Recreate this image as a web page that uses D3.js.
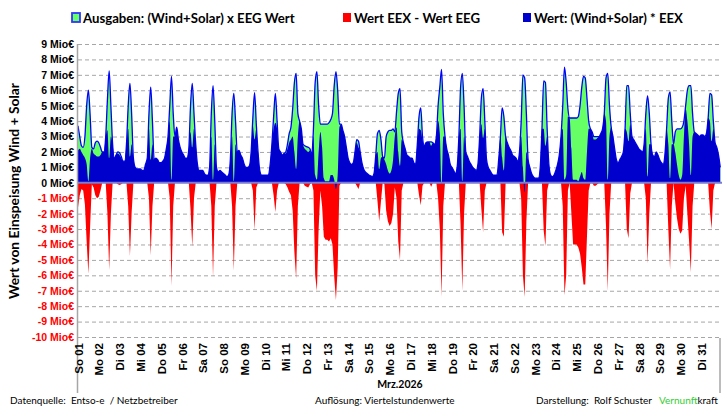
<!DOCTYPE html>
<html lang="de">

<head>
  <meta charset="UTF-8">
  <title>Wert von Einspeisung Wind + Solar - Mrz.2026</title>
  <style>
    body { margin: 0; background: #fff; }
    svg { display: block; font-family: Lato, "Open Sans", sans-serif; }
    .grid line { stroke: #a6a6a6; stroke-dasharray: 4 3; }
    .grid path { display: none; }
    .ylab text { font-weight: bold; font-size: 10.5px; }
    .xlab text { font-weight: bold; font-size: 11.5px; fill: #000; }
    .legend { font-weight: bold; font-size: 13.2px; }
    .foot { font-size: 10px; }
  </style>
</head>

<body>
  <svg id="chart"></svg>

  <script src="https://d3js.org/d3.v7.min.js"></script>
  <script>
    // day labels (ticks at the start of each day)
    const dayLabels = ["So 01", "Mo 02", "Di 03", "Mi 04", "Do 05", "Fr 06", "Sa 07", "So 08", "Mo 09", "Di 10",
      "Mi 11", "Do 12", "Fr 13", "Sa 14", "So 15", "Mo 16", "Di 17", "Mi 18", "Do 19", "Fr 20", "Sa 21",
      "So 22", "Mo 23", "Di 24", "Mi 25", "Do 26", "Fr 27", "Sa 28", "So 29", "Mo 30", "Di 31"];
    const yTicks = [9, 8, 7, 6, 5, 4, 3, 2, 1, 0, -1, -2, -3, -4, -5, -6, -7, -8, -9, -10];
    const stepHours = 2; // one value every 2 hours, 12 per day

    // Ausgaben: (Wind+Solar) x EEG Wert  [Mio €]
    const eegWert = [
      3.7, 3.0, 2.4, 2.3, 3.0, 5.0, 6.0, 4.4, 2.3, 2.2, 2.6, 2.7,
      2.6, 2.3, 2.0, 2.0, 3.0, 5.4, 7.25, 5.0, 2.5, 1.6, 1.8, 2.0,
      1.95, 1.7, 1.4, 1.4, 2.5, 5.0, 6.45, 4.4, 1.6, 1.0, 0.9, 0.9,
      0.9, 0.8, 0.8, 1.2, 1.6, 4.5, 6.2, 4.0, 1.5, 1.6, 1.5, 1.3,
      1.3, 1.4, 1.6, 2.2, 3.0, 5.0, 6.9, 4.5, 3.0, 3.6, 2.8, 2.3,
      2.0, 1.8, 1.6, 1.6, 2.2, 5.0, 6.45, 4.5, 2.5, 1.2, 0.8, 0.8,
      0.8, 0.6, 0.5, 0.5, 1.0, 4.5, 6.3, 4.0, 1.0, 0.7, 0.8, 0.7,
      0.6, 0.5, 0.4, 0.5, 1.5, 4.5, 5.8, 4.0, 2.0, 2.1, 1.8, 1.6,
      1.2, 1.0, 1.0, 1.1, 2.0, 4.2, 5.85, 3.8, 2.0, 0.8, 0.5, 0.5,
      0.5, 0.5, 0.5, 1.2, 2.5, 4.3, 5.8, 4.0, 2.2, 2.0, 1.8, 1.9,
      2.0, 2.5, 3.2, 3.6, 4.8, 6.5, 7.1, 4.5, 4.0, 3.5, 2.5, 2.4,
      2.35, 2.3, 2.2, 1.8, 3.5, 6.5, 7.2, 5.0, 3.8, 3.8, 3.8, 3.8,
      3.8, 3.9, 4.1, 4.5, 6.3, 7.2, 6.0, 3.8, 3.8, 3.4, 3.0, 2.3,
      1.6, 1.3, 1.2, 1.3, 2.0, 2.8, 2.7, 2.0, 1.3, 0.9, 0.7, 0.6,
      0.5, 0.45, 0.4, 0.6, 1.8, 3.2, 3.4, 2.8, 1.7, 1.6, 3.0, 3.3,
      3.4, 3.4, 3.5, 3.3, 4.6, 5.8, 6.1, 3.3, 2.6, 2.2, 1.8, 1.7,
      1.6, 1.6, 1.3, 1.2, 2.5, 4.3, 4.85, 3.0, 2.4, 2.6, 2.65, 2.65,
      2.65, 2.6, 2.5, 3.0, 5.0, 6.2, 7.35, 4.5, 3.0, 2.2, 1.8, 1.2,
      1.0, 0.8, 0.6, 1.0, 3.0, 6.2, 7.1, 5.0, 2.0, 1.7, 1.4, 1.2,
      1.0, 0.9, 0.8, 1.2, 3.0, 5.5, 6.1, 4.0, 1.5, 1.0, 0.8, 0.6,
      0.5, 0.5, 0.5, 1.5, 3.0, 4.85, 4.3, 3.0, 2.6, 2.3, 2.1, 1.8,
      1.7, 1.6, 1.4, 2.0, 4.0, 7.0, 6.8, 4.5, 1.5, 1.0, 0.6, 0.4,
      0.3, 0.3, 0.3, 1.0, 3.5, 6.6, 6.5, 3.5, 1.2, 0.5, 0.4, 0.5,
      0.8, 1.2, 1.8, 3.0, 5.0, 7.5, 6.5, 4.8, 4.2, 4.2, 4.2, 4.2,
      4.2, 4.3, 5.0, 6.2, 6.9, 6.8, 5.5, 4.0, 3.5, 3.3, 3.0, 3.0,
      3.0, 3.0, 3.2, 3.5, 4.5, 6.8, 7.1, 5.0, 3.6, 3.0, 2.2, 1.5,
      1.3, 1.5, 1.7, 2.0, 3.5, 6.3, 6.3, 4.5, 3.0, 2.8, 2.6, 2.4,
      2.2, 2.1, 2.0, 2.5, 4.5, 5.65, 4.5, 2.5, 1.8, 1.7, 2.0, 1.8,
      1.5, 1.3, 1.2, 1.8, 3.5, 5.5, 5.9, 4.0, 2.5, 3.3, 3.5, 3.5,
      3.5, 3.6, 4.0, 5.0, 6.0, 6.3, 6.3, 4.5, 3.3, 3.2, 3.1, 3.0,
      3.1, 3.1, 3.0, 3.2, 4.2, 5.8, 5.7, 4.0, 2.6, 2.3, 1.8, 1.0
    ];

    // Wert: (Wind+Solar) * EEX  [Mio €]
    const eexWert = [
      2.1, 2.2, 2.0, 1.8, 1.6, 1.2, 0.1, 1.6, 2.2, 1.9, 1.8, 1.7,
      1.7, 1.8, 2.0, 2.0, 3.0, 3.4, 1.6, 3.0, 2.5, 1.6, 1.8, 1.9,
      1.8, 1.6, 1.4, 1.4, 2.5, 3.5, 1.7, 2.5, 1.6, 1.0, 0.9, 0.9,
      0.9, 0.8, 0.8, 1.2, 1.6, 3.5, 1.5, 2.5, 1.5, 1.6, 1.5, 1.3,
      1.3, 1.4, 1.6, 2.2, 3.0, 4.0, 0.2, 3.0, 3.0, 3.6, 2.8, 2.3,
      2.0, 1.8, 1.6, 1.6, 2.2, 3.3, 2.3, 3.5, 2.5, 1.2, 0.8, 0.8,
      0.8, 0.6, 0.5, 0.5, 1.0, 3.0, 0.2, 2.5, 1.0, 0.7, 0.8, 0.7,
      0.6, 0.5, 0.4, 0.5, 1.5, 3.0, 0.1, 2.5, 2.0, 2.1, 1.8, 1.6,
      1.2, 1.0, 1.0, 1.1, 2.0, 3.7, 2.8, 3.5, 2.0, 0.8, 0.5, 0.5,
      0.5, 0.5, 0.5, 1.2, 2.5, 3.5, 3.9, 3.5, 2.2, 2.0, 1.8, 1.9,
      1.9, 2.2, 2.6, 2.8, 3.0, 2.0, 0.9, 3.0, 4.0, 3.5, 2.5, 2.2,
      2.1, 2.0, 2.1, 1.8, 3.0, 0.5, 0.2, 2.0, 3.3, 2.3, 0.3, 0.1,
      0.1, 0.1, 0.5, 0.5, 0.2, -0.4, 0.5, 3.6, 3.8, 3.4, 3.0, 2.3,
      1.6, 1.3, 1.2, 1.3, 2.0, 2.6, 2.3, 2.0, 1.3, 0.9, 0.7, 0.6,
      0.5, 0.45, 0.4, 0.6, 1.8, 2.0, 0.9, 1.6, 1.7, 1.5, 1.2, 0.8,
      0.6, 0.8, 1.5, 3.0, 3.6, 2.0, 1.1, 2.8, 2.6, 2.2, 1.8, 1.7,
      1.6, 1.6, 1.3, 1.2, 2.5, 3.5, 3.4, 2.8, 2.4, 2.6, 2.65, 2.65,
      2.4, 2.6, 2.5, 3.0, 4.0, 3.2, -0.1, 3.0, 3.0, 2.2, 1.8, 1.2,
      1.0, 0.8, 0.6, 1.0, 3.0, 3.5, 0.1, 3.0, 2.0, 1.7, 1.4, 1.2,
      1.0, 0.9, 0.8, 1.2, 3.0, 3.8, 2.9, 3.5, 1.5, 1.0, 0.8, 0.6,
      0.5, 0.5, 0.5, 1.5, 3.0, 1.65, 0.8, 3.0, 2.6, 2.3, 2.1, 1.8,
      1.7, 1.6, 1.4, 2.0, 3.0, 1.0, -0.6, 2.0, 1.5, 1.0, 0.6, 0.4,
      0.3, 0.3, 0.3, 1.0, 3.5, 3.5, 2.4, 3.0, 1.2, 0.5, 0.4, 0.5,
      0.8, 1.2, 1.8, 3.0, 3.5, 0.2, 0.5, 4.3, 4.2, 2.2, 0.2, 0.2,
      0.2, 0.1, 0.4, 0.7, 0.3, 0.2, 2.0, 3.5, 3.5, 3.3, 2.8, 2.8,
      2.9, 3.0, 3.2, 3.5, 4.5, 4.0, 0.2, 3.0, 3.6, 3.0, 2.2, 1.5,
      1.3, 1.5, 1.7, 2.0, 3.5, 3.3, 2.7, 3.8, 3.0, 2.8, 2.6, 2.4,
      2.2, 2.1, 2.0, 2.5, 3.5, 0.4, 2.5, 2.5, 1.8, 1.7, 2.0, 1.8,
      1.5, 1.3, 1.2, 1.8, 3.5, 2.5, 0.3, 2.5, 2.5, 2.0, 1.2, 0.5,
      0.2, 0.5, 3.0, 4.8, 4.0, 2.5, 0.5, 3.0, 3.3, 3.2, 3.1, 3.0,
      3.1, 3.1, 3.0, 3.2, 4.2, 4.0, 2.7, 3.5, 2.6, 2.3, 1.8, 1.0
    ];

    // Wert EEX - Wert EEG  [Mio €]
    const diffWert = [
      -1.6, -0.8, -0.4, -0.5, -1.4, -3.8, -5.9, -2.8, -0.1, -0.3, -0.8, -1.0,
      -0.9, -0.5, 0, 0, 0, -2.0, -5.65, -2.0, 0, 0, 0, -0.1,
      -0.15, -0.1, 0, 0, 0, -1.5, -4.75, -1.9, 0, 0, 0, 0,
      0, 0, 0, 0, 0, -1.0, -4.7, -1.5, 0, 0, 0, 0,
      0, 0, 0, 0, 0, -1.0, -6.7, -1.5, 0, 0, 0, 0,
      0, 0, 0, 0, 0, -1.7, -4.15, -1.0, 0, 0, 0, 0,
      0, 0, 0, 0, 0, -1.5, -6.1, -1.5, 0, 0, 0, 0,
      0, 0, 0, 0, 0, -1.5, -5.7, -1.5, 0, 0, 0, 0,
      0, 0, 0, 0, 0, -0.5, -3.05, -0.3, 0, 0, 0, 0,
      0, 0, 0, 0, 0, -0.8, -1.9, -0.5, 0, 0, 0, 0,
      -0.1, -0.3, -0.6, -0.8, -1.8, -4.5, -6.2, -1.5, 0, 0, 0, -0.2,
      -0.25, -0.3, -0.1, 0, -0.5, -6.0, -7.0, -3.0, -0.5, -1.5, -3.5, -3.7,
      -3.7, -3.8, -3.6, -4.0, -6.1, -7.6, -5.5, -0.2, 0, 0, 0, 0,
      0, 0, 0, 0, 0, -0.2, -0.4, 0, 0, 0, 0, 0,
      0, 0, 0, 0, 0, -1.2, -2.5, -1.2, 0, -0.1, -1.8, -2.5,
      -2.8, -2.6, -2.0, -0.3, -1.0, -3.8, -5.0, -0.5, 0, 0, 0, 0,
      0, 0, 0, 0, 0, -0.8, -1.45, -0.2, 0, 0, 0, 0,
      -0.25, 0, 0, 0, -1.0, -3.0, -7.4, -1.5, 0, 0, 0, 0,
      0, 0, 0, 0, 0, -2.7, -7.0, -2.0, 0, 0, 0, 0,
      0, 0, 0, 0, 0, -1.7, -3.2, -0.5, 0, 0, 0, 0,
      0, 0, 0, 0, 0, -3.2, -3.5, 0, 0, 0, 0, 0,
      0, 0, 0, 0, -1.0, -6.0, -7.4, -2.5, 0, 0, 0, 0,
      0, 0, 0, 0, 0, -3.1, -4.1, -0.5, 0, 0, 0, 0,
      0, 0, 0, 0, -1.5, -7.3, -6.0, -0.5, 0, -2.0, -4.0, -4.0,
      -4.0, -4.2, -4.6, -5.5, -6.6, -6.6, -3.5, -0.5, 0, 0, -0.2, -0.2,
      -0.1, 0, 0, 0, 0, -2.8, -7.0, -2.0, 0, 0, 0, 0,
      0, 0, 0, 0, 0, -3.0, -3.6, -0.7, 0, 0, 0, 0,
      0, 0, 0, 0, -1.0, -5.25, -2.0, 0, 0, 0, 0, 0,
      0, 0, 0, 0, 0, -3.0, -5.6, -1.5, 0, -1.3, -2.3, -3.0,
      -3.3, -3.1, -1.0, -0.2, -2.0, -3.8, -5.8, -1.5, 0, 0, 0, 0,
      0, 0, 0, 0, 0, -1.8, -3.0, -0.5, 0, 0, 0, 0
    ];

    const w = 726;
    const h = 409;
    const padLeft = 78, padRight = 722, padTop = 44, padBottom = 337;

    const svg = d3.select("#chart")
      .attr("width", w)
      .attr("height", h);

    const start = new Date(Date.UTC(2026, 2, 1));
    const end = new Date(Date.UTC(2026, 3, 1));
    const timeAt = (i) => d3.utcHour.offset(start, i * stepHours);

    const xScale = d3.scaleUtc().domain([start, end]).range([padLeft, padRight]);
    const yScale = d3.scaleLinear().domain([-10, 9]).range([padBottom, padTop]);

    // dashed grid
    svg.append("g")
      .attr("class", "grid")
      .attr("transform", "translate(" + padLeft + ",0)")
      .call(d3.axisLeft(yScale).tickValues(yTicks.filter(d => d !== 0)).tickSize(-(padRight - padLeft)).tickFormat(""));

    // areas: green behind, red, then blue on top
    const valueArea = d3.area()
      .x((d, i) => xScale(timeAt(i)))
      .y0(yScale(0))
      .y1((d) => yScale(d))
      .curve(d3.curveMonotoneX);
    const greenLine = d3.line()
      .x((d, i) => xScale(timeAt(i)))
      .y((d) => yScale(d))
      .curve(d3.curveMonotoneX);
    const redArea = d3.area()
      .x((d, i) => xScale(timeAt(i)))
      .y0(yScale(0))
      .y1((d) => yScale(d));

    svg.append("path").datum(eegWert)
      .attr("d", valueArea)
      .attr("fill", "#66ff66");
    svg.append("path").datum(eegWert)
      .attr("d", greenLine)
      .attr("fill", "none")
      .attr("stroke", "#0000ff")
      .attr("stroke-width", 1.3)
      .attr("stroke-linejoin", "round");
    svg.append("path").datum(diffWert)
      .attr("d", redArea)
      .attr("fill", "#ff0000");
    svg.append("path").datum(eexWert)
      .attr("d", valueArea)
      .attr("fill", "#0000cc");

    // zero line
    svg.append("line")
      .attr("x1", padLeft).attr("x2", padRight)
      .attr("y1", yScale(0)).attr("y2", yScale(0))
      .attr("stroke", "#7b7bd0")
      .attr("stroke-width", 2);

    // y labels
    const yAxis = svg.append("g")
      .attr("class", "ylab")
      .attr("transform", "translate(" + (padLeft - 4) + ",0)")
      .call(d3.axisLeft(yScale).tickValues(yTicks).tickSize(0).tickPadding(0).tickFormat((d) => d + " Mio€"));
    yAxis.select(".domain").remove();
    yAxis.selectAll("text").attr("fill", (d) => d < 0 ? "#ff0000" : "#000");

    // axis frame lines
    svg.append("line")
      .attr("x1", padLeft - 0.5).attr("x2", padLeft - 0.5)
      .attr("y1", padTop).attr("y2", 393)
      .attr("stroke", "#a6a6a6").attr("stroke-width", 1.5);
    svg.append("line")
      .attr("x1", padRight - 2).attr("x2", padRight - 2)
      .attr("y1", padBottom + 1).attr("y2", 393)
      .attr("stroke", "#a6a6a6").attr("stroke-width", 1.5);

    // x labels (rotated day names)
    const dayDates = dayLabels.map((d, i) => d3.utcDay.offset(start, i));
    const xAxis = svg.append("g")
      .attr("class", "xlab")
      .attr("transform", "translate(0," + (padBottom + 6) + ")")
      .call(d3.axisBottom(xScale).tickValues(dayDates).tickSize(0).tickFormat((d, i) => dayLabels[i]));
    xAxis.select(".domain").remove();
    xAxis.selectAll("text")
      .attr("transform", "rotate(-90)")
      .attr("text-anchor", "end")
      .attr("x", 0)
      .attr("y", 0)
      .attr("dy", "0.36em");

    svg.append("text")
      .attr("x", 400).attr("y", 388)
      .attr("text-anchor", "middle")
      .attr("font-weight", "bold")
      .attr("font-size", "10.5px")
      .text("Mrz.2026");

    // y-axis title
    svg.append("text")
      .attr("transform", "translate(19,191) rotate(-90)")
      .attr("text-anchor", "middle")
      .attr("font-weight", "bold")
      .attr("font-size", "13.8px")
      .text("Wert von Einspeisung Wind + Solar");

    // legend
    const legend = [
      { x: 72, fill: "#66ff66", stroke: "#3333ff", label: "Ausgaben: (Wind+Solar) x EEG Wert" },
      { x: 343, fill: "#ff0000", stroke: "none", label: "Wert EEX - Wert EEG" },
      { x: 523, fill: "#0000cc", stroke: "none", label: "Wert: (Wind+Solar) * EEX" }
    ];
    const lg = svg.selectAll(".lg").data(legend).enter().append("g");
    lg.append("rect")
      .attr("x", (d) => d.x).attr("y", 13)
      .attr("width", 8).attr("height", 9)
      .attr("fill", (d) => d.fill)
      .attr("stroke", (d) => d.stroke)
      .attr("stroke-width", 1.8);
    lg.append("text")
      .attr("class", "legend")
      .attr("x", (d) => d.x + 11).attr("y", 22.5)
      .text((d) => d.label);

    // footer
    svg.append("text").attr("class", "foot").attr("x", 10).attr("y", 404)
      .attr("xml:space", "preserve")
      .text("Datenquelle:  Entso-e  / Netzbetreiber");
    svg.append("text").attr("class", "foot").attr("x", 315).attr("y", 404)
      .text("Auflösung: Viertelstundenwerte");
    const credit = svg.append("text").attr("class", "foot").attr("x", 536).attr("y", 404)
      .attr("xml:space", "preserve");
    credit.append("tspan").text("Darstellung:  Rolf Schuster   ");
    credit.append("tspan").attr("fill", "#33cc33").text("Vernunft");
    credit.append("tspan").text("kraft");
  </script>
</body>

</html>
